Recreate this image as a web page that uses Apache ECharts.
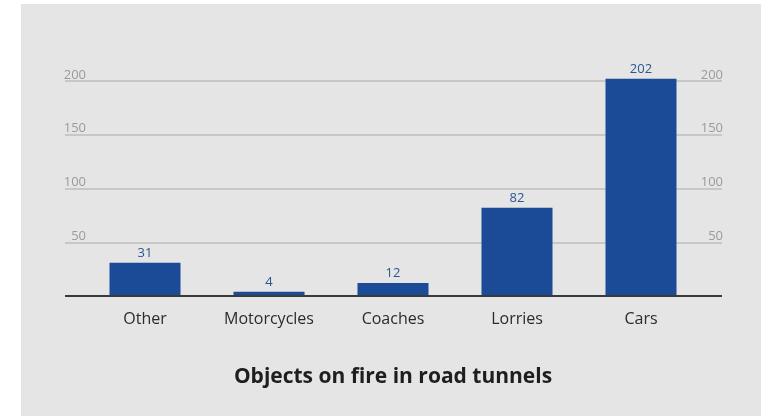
<!DOCTYPE html>
<html>
<head>
<meta charset="utf-8">
<script src="https://cdn.jsdelivr.net/npm/echarts@6/dist/echarts.min.js"></script>
<style>
  html, body { margin: 0; padding: 0; background: #ffffff; }
  #chart { width: 772px; height: 416px; }
</style>
</head>
<body>
<div id="chart"></div>
<script>
// Fires in road tunnels, counted by type of vehicle
const categories = ['Other', 'Motorcycles', 'Coaches', 'Lorries', 'Cars'];
const fireCounts = [31, 4, 12, 82, 202];
const yTicks = [0, 50, 100, 150, 200];

const FONT = '"Open Sans", "Noto Sans", sans-serif';
const yMin = yTicks[0];
const yMax = yTicks[yTicks.length - 1];
const yStep = yTicks[1] - yTicks[0];

// plot geometry shared by both grids
const PLOT_BOTTOM = 120;      // distance of the zero line from the bottom edge
const PLOT_TOP = 81;          // y of the top rule (yMax)
const ZERO_Y = 416 - PLOT_BOTTOM;
const pxPerUnit = (ZERO_Y - PLOT_TOP) / (yMax - yMin);
// the bar grid reaches a little higher so the tallest bar is not clipped
const barMax = 210;
const barTop = ZERO_Y - (barMax - yMin) * pxPerUnit;

const chart = echarts.init(document.getElementById('chart'), null, { renderer: 'canvas' });

const tickLabel = (v) => (v === yMin ? '' : String(v));

const tickLabelStyle = {
  inside: true, align: 'right', verticalAlign: 'bottom', lineHeight: 12,
  fontFamily: FONT, fontSize: 13, color: '#9a9b9a', formatter: tickLabel
};

chart.setOption({
  backgroundColor: '#ffffff',
  animation: false,
  graphic: [{
    type: 'rect',
    shape: { x: 21, y: 4, width: 740, height: 412 },
    style: { fill: '#e4e5e4' },
    z: -10
  }],
  title: {
    text: 'Objects on fire in road tunnels',
    left: 388,
    textAlign: 'center',
    top: 362,
    textStyle: { fontFamily: FONT, fontSize: 21, fontWeight: 'bold', color: '#1e1e1e' }
  },
  grid: [
    // wide grid carrying the horizontal rules and both tick-label columns
    { left: 65, right: 50, top: PLOT_TOP, bottom: PLOT_BOTTOM },
    // narrower grid holding the bars
    { left: 83, right: 69, top: barTop, bottom: PLOT_BOTTOM }
  ],
  xAxis: [
    { gridIndex: 0, type: 'value', show: false, min: 0, max: 1 },
    {
      gridIndex: 1,
      type: 'category',
      data: categories,
      axisLine: { show: false },
      axisTick: { show: false },
      axisLabel: { margin: 15, fontFamily: FONT, fontSize: 16, color: '#2b2b2b' }
    }
  ],
  yAxis: [
    {
      gridIndex: 0, type: 'value', position: 'left',
      min: yMin, max: yMax, interval: yStep,
      axisLine: { show: false }, axisTick: { show: false },
      splitLine: { lineStyle: { color: '#bcbdbc', width: 1.5 } },
      axisLabel: Object.assign({ margin: 21 }, tickLabelStyle)
    },
    {
      gridIndex: 0, type: 'value', position: 'right',
      min: yMin, max: yMax, interval: yStep,
      axisLine: { show: false }, axisTick: { show: false },
      splitLine: { show: false },
      axisLabel: Object.assign({ margin: -1 }, tickLabelStyle)
    },
    {
      gridIndex: 1, type: 'value', show: false,
      min: yMin, max: barMax,
      splitLine: { show: false }
    }
  ],
  series: [
    {
      // baseline rule across the full width
      type: 'line',
      xAxisIndex: 0, yAxisIndex: 0,
      data: [[0, yMin], [1, yMin]],
      symbol: 'none',
      lineStyle: { color: '#3a3a3a', width: 2 },
      z: 5
    },
    {
      type: 'bar',
      xAxisIndex: 1, yAxisIndex: 2,
      data: fireCounts,
      barWidth: 71,
      itemStyle: { color: '#1b4a97' },
      label: {
        show: true, position: 'top', distance: 3,
        fontFamily: FONT, fontSize: 13, color: '#2d5591'
      },
      z: 3
    }
  ]
});
</script>
</body>
</html>
